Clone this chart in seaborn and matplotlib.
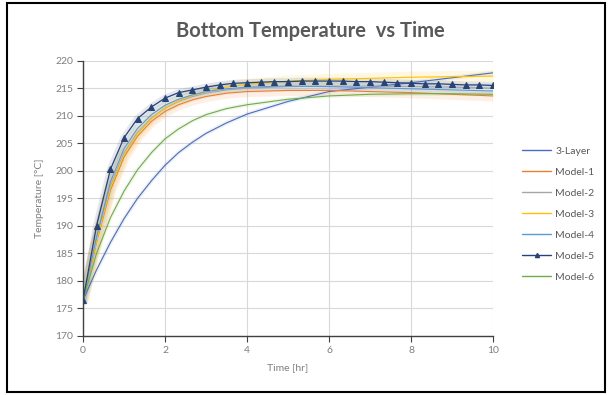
import matplotlib
matplotlib.use('Agg')
import matplotlib.pyplot as plt
import seaborn as sns
import pandas as pd
from matplotlib.lines import Line2D
from matplotlib.patches import Rectangle

sns.set_theme(style='white')
plt.rcParams['font.family'] = ['Lato', 'DejaVu Sans']

# ---- data ----
time_grid = [0, 0.33, 0.67, 1, 1.33, 1.67, 2, 2.33, 2.67, 3, 3.5, 4, 5, 6, 7, 8, 9, 10]
layer3 = [176.5, 182.0, 187.0, 191.3, 195.0, 198.2, 201.0, 203.3, 205.2, 206.8, 208.7, 210.3,
          212.6, 214.4, 215.2, 216.0, 216.9, 217.8]
model1 = [176.5, 187.0, 196.5, 202.5, 206.3, 209.0, 210.8, 212.0, 212.9, 213.5, 214.1, 214.4,
          214.6, 214.6, 214.4, 214.2, 213.9, 213.6]
model2 = [176.5, 187.5, 197.3, 203.3, 207.0, 209.6, 211.4, 212.6, 213.5, 214.1, 214.7, 215.0,
          215.3, 215.4, 215.4, 215.3, 215.2, 215.0]
model3 = [176.5, 187.2, 197.0, 203.0, 206.8, 209.5, 211.4, 212.7, 213.7, 214.4, 215.2, 215.7,
          216.3, 216.6, 216.8, 217.0, 217.1, 217.2]
model4 = [176.5, 188.0, 198.0, 204.0, 207.7, 210.2, 211.9, 213.0, 213.8, 214.4, 214.9, 215.2,
          215.4, 215.3, 215.1, 214.9, 214.7, 214.5]
model6 = [176.5, 185.0, 191.5, 196.3, 200.2, 203.3, 205.8, 207.6, 209.1, 210.2, 211.3, 212.0,
          213.0, 213.6, 213.9, 214.0, 214.0, 213.9]

time_m5 = [0, 0.33, 0.67, 1, 1.33, 1.67, 2, 2.33, 2.67, 3, 3.33, 3.67, 4, 4.33, 4.67, 5,
           5.33, 5.67, 6, 6.33, 6.67, 7, 7.33, 7.67, 8, 8.33, 8.67, 9, 9.33, 9.67, 10]
model5 = [176.5, 190.0, 200.3, 206.0, 209.5, 211.6, 213.2, 214.2, 214.7, 215.2, 215.6, 215.9,
          216.0, 216.1, 216.2, 216.2, 216.3, 216.3, 216.3, 216.3, 216.2, 216.2, 216.1, 216.0,
          215.9, 215.8, 215.8, 215.7, 215.6, 215.6, 215.5]

names = ['3-Layer', 'Model-1', 'Model-2', 'Model-3', 'Model-4', 'Model-5', 'Model-6']
colors = ['#4A6CC0', '#ED7D31', '#A5A5A5', '#FFC000', '#5B9BD5', '#264478', '#70AD47']
x_ticks = [0, 2, 4, 6, 8, 10]
y_ticks = [170, 175, 180, 185, 190, 195, 200, 205, 210, 215, 220]

series = {
    '3-Layer': (time_grid, layer3),
    'Model-1': (time_grid, model1),
    'Model-2': (time_grid, model2),
    'Model-3': (time_grid, model3),
    'Model-4': (time_grid, model4),
    'Model-5': (time_m5, model5),
    'Model-6': (time_grid, model6),
}
glow = {'3-Layer': (3.0, 0.10), 'Model-1': (8, 0.12), 'Model-2': (7, 0.12), 'Model-3': (8, 0.12),
        'Model-4': (6, 0.12), 'Model-5': (5, 0.12), 'Model-6': (3.0, 0.10)}

fig = plt.figure(figsize=(6.12, 3.95), dpi=100)
fig.patch.set_facecolor('white')
ax = fig.add_axes([0.1356, 0.1494, 0.67, 0.6969])

handles = []
for name, col in zip(names, colors):
    xs, ys = series[name]
    df = pd.DataFrame({'t': xs, 'T': ys})
    gw, ga = glow[name]
    sns.lineplot(data=df, x='t', y='T', ax=ax, color=col, linewidth=gw, alpha=ga,
                 legend=False, solid_capstyle='round')
for name, col in zip(names, colors):
    xs, ys = series[name]
    df = pd.DataFrame({'t': xs, 'T': ys})
    if name == 'Model-5':
        sns.lineplot(data=df, x='t', y='T', ax=ax, color=col, linewidth=0.9,
                     marker='^', markersize=4.0, markeredgecolor=col, legend=False, zorder=5)
        handles.append(Line2D([], [], color=col, lw=1.0, marker='^', markersize=3.0))
    else:
        sns.lineplot(data=df, x='t', y='T', ax=ax, color=col, linewidth=0.8,
                     legend=False)
        handles.append(Line2D([], [], color=col, lw=1.0))

ax.set_xlim(0, 10)
ax.set_ylim(170, 220)
ax.set_xticks(x_ticks)
ax.set_yticks(y_ticks)
ax.grid(True, color='#D9D9D9', linewidth=0.8)
ax.set_axisbelow(True)
for s in ['top', 'right']:
    ax.spines[s].set_visible(False)
for s in ['left', 'bottom']:
    ax.spines[s].set_color('#404040')
    ax.spines[s].set_linewidth(1.0)
ax.tick_params(axis='both', direction='out', length=4, width=0.8, color='#404040',
               labelsize=7.5, labelcolor='#7F7F7F', pad=3, bottom=True, left=True)
ax.set_xlabel('Time [hr]', fontsize=7.5, color='#7F7F7F', labelpad=6)
ax.set_ylabel('Temperature [°C]', fontsize=7.5, color='#7F7F7F', labelpad=8)

fig.text(0.507, 0.922, 'Bottom Temperature  vs Time', ha='center', va='center',
         fontsize=14.5, fontweight='bold', color='#595959')

leg = fig.legend(handles, names, loc='upper left', bbox_to_anchor=(0.846, 0.64),
                 frameon=False, fontsize=7.5, handlelength=2.8, handletextpad=0.4,
                 labelspacing=1.13, borderaxespad=0)
for t in leg.get_texts():
    t.set_color('#595959')

fig.add_artist(Rectangle((0.012, 0.008), 0.976, 0.985, transform=fig.transFigure,
                         fill=False, edgecolor='black', linewidth=1.5))

fig.savefig('out.png', dpi=100, facecolor='white')
